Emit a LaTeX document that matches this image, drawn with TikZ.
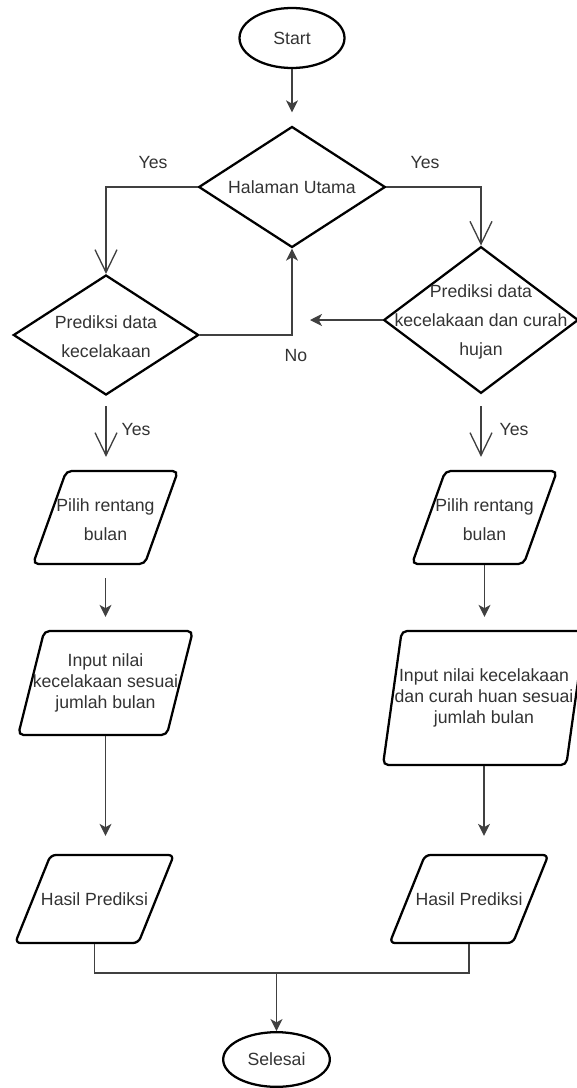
\documentclass[tikz,border=0pt]{standalone}
\usepackage{fontspec}
\setmainfont{Liberation Sans}
\usetikzlibrary{arrows.meta,shapes.geometric}
\definecolor{txtgray}{HTML}{333333}
\definecolor{linegray}{HTML}{404040}

\begin{document}
\begin{tikzpicture}[
  x=0.75pt, y=-0.75pt,
  terminal/.style={ellipse, draw, line width=1.7pt, inner sep=0pt, text=txtgray, font=\fontsize{13.25}{16}\selectfont},
  decision/.style={diamond, draw, line width=1.7pt, inner sep=1pt},
  io/.style={trapezium, trapezium stretches=true, draw, line width=1.7pt, rounded corners=4pt, inner sep=1pt},
  lbl/.style={text=txtgray, align=center, font=\fontsize{13.25}{21.75}\selectfont},
  lbltight/.style={text=txtgray, align=center, font=\fontsize{13.25}{16}\selectfont},
  arrow/.style={draw=linegray, line width=1pt, -{Stealth[length=9pt, width=9pt, inset=2.5pt]}},
  yesarrow/.style={draw=linegray, line width=1pt, -{Straight Barb[length=17pt, width=16.5pt]}},
  joinline/.style={draw=linegray, line width=1pt}
]
\useasboundingbox (0,0) rectangle (577,1088);

% start and main menu
\node[terminal, minimum width=78.75pt, minimum height=45pt] (start) at (292,38) {Start};
\node[decision, minimum width=140pt, minimum height=90.75pt,
  label={[lbl]center:Halaman Utama}] (utama) at (292,187) {};

% the two predictions
\node[decision, minimum width=139pt, minimum height=90pt,
  label={[lbl, yshift=-1.5pt]center:Prediksi data\\kecelakaan}] (predA) at (106,335) {};
\node[decision, minimum width=146pt, minimum height=110pt,
  label={[lbl, yshift=-1.5pt]center:Prediksi data\\kecelakaan dan curah\\hujan}] (predB) at (481,320) {};

% left column
\node[io, trapezium left angle=67, trapezium right angle=113, minimum width=108.75pt, minimum height=69.75pt,
  label={[lbl, yshift=-1.5pt]center:Pilih rentang\\bulan}] (pilihA) at (105.5,517.5) {};
\node[io, trapezium left angle=78, trapezium right angle=102, minimum width=131pt, minimum height=78pt,
  label={[lbltight]center:Input nilai\\kecelakaan sesuai\\jumlah bulan}] (inputA) at (105.5,683) {};
\node[io, trapezium left angle=68, trapezium right angle=112, minimum width=119pt, minimum height=66pt,
  label={[lbltight]center:Hasil Prediksi}] (hasilA) at (94.5,899) {};

% right column
\node[io, trapezium left angle=67, trapezium right angle=113, minimum width=108.75pt, minimum height=69.75pt,
  label={[lbl, yshift=-1.5pt]center:Pilih rentang\\bulan}] (pilihB) at (484.5,517.5) {};
\node[io, trapezium left angle=83.5, trapezium right angle=96.5, minimum width=151.5pt, minimum height=100.5pt,
  label={[lbltight]center:Input nilai kecelakaan\\dan curah huan sesuai\\jumlah bulan}] (inputB) at (484,698) {};
\node[io, trapezium left angle=68, trapezium right angle=112, minimum width=119pt, minimum height=66pt,
  label={[lbltight]center:Hasil Prediksi}] (hasilB) at (469,899) {};

\node[terminal, minimum width=80pt, minimum height=41pt] (selesai) at (276.5,1059.5) {Selesai};

% labels
\node[lbltight] (yesA) at (153,163) {Yes};
\node[lbltight] (yesB) at (425,163) {Yes};
\node[lbltight] (yesC) at (136,430) {Yes};
\node[lbltight] (yesD) at (514,430) {Yes};
\node[lbltight] (noLbl) at (296,356) {No};
\coordinate (noTip) at (310,320);
\coordinate (join) at (276.5,973);

% connectors
\draw[arrow, shorten >=9.75pt] (start.south) -- (utama.north);
\draw[yesarrow] (utama.west) -| (predA.north);
\draw[yesarrow] (utama.east) -| (predB.north);
\draw[arrow] (predA.east) -| (utama.south);
\draw[arrow] (predB.west) -- (noTip);
\draw[yesarrow, shorten <=7.5pt, shorten >=9.75pt] (predA.south) -- (predA.south |- pilihA.north);
\draw[yesarrow, shorten <=9pt, shorten >=9.75pt] (predB.south) -- (predB.south |- pilihB.north);
\draw[arrow, shorten <=9.75pt, shorten >=9.75pt] (pilihA.center |- pilihA.south) -- (pilihA.center |- inputA.north);
\draw[arrow, shorten >=9.75pt] (pilihB.center |- pilihB.south) -- (pilihB.center |- inputB.north);
\draw[arrow, shorten >=13.5pt] (inputA.center |- inputA.south) -- (inputA.center |- hasilA.north);
\draw[arrow, shorten >=13.5pt] (inputB.center |- inputB.south) -- (inputB.center |- hasilB.north);
\draw[joinline] (hasilA.center |- hasilA.south) |- (join) -| (hasilB.center |- hasilB.south);
\draw[arrow] (join) -- (selesai.north);
\end{tikzpicture}
\end{document}
